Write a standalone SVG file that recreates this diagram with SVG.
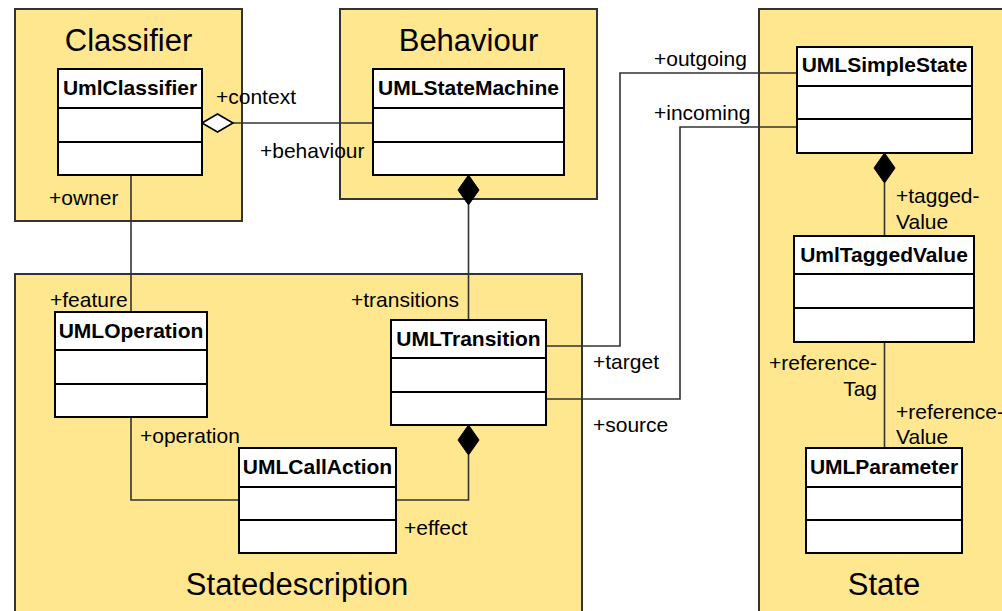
<svg xmlns="http://www.w3.org/2000/svg" width="1002" height="611" viewBox="0 0 1002 611">
  <style>
    .pkg { fill: #FFE78F; stroke: #333333; stroke-width: 2; }
    .pkg-title { font-family: "Liberation Sans", Arial, sans-serif; font-size: 31px; fill: #000; text-anchor: middle; }
    .cls { fill: #FFFFFF; stroke: #000000; stroke-width: 2; }
    .cls-name { font-family: "Liberation Sans", Arial, sans-serif; font-size: 21px; font-weight: bold; fill: #000; text-anchor: middle; }
    .edge { fill: none; stroke: #333333; stroke-width: 1.6; }
    .role { font-family: "Liberation Sans", Arial, sans-serif; font-size: 21px; fill: #000; }
    .end { text-anchor: end; }
    .comp { fill: #000000; stroke: #000000; stroke-width: 1; }
    .aggr { fill: #FFFFFF; stroke: #000000; stroke-width: 1.6; }
  </style>

  <!-- packages -->
  <g id="pkg-classifier">
    <rect class="pkg" x="15" y="9" width="227" height="212"/>
    <text class="pkg-title" x="128.5" y="51">Classifier</text>
  </g>
  <g id="pkg-behaviour">
    <rect class="pkg" x="340" y="9" width="257" height="190"/>
    <text class="pkg-title" x="468.5" y="51">Behaviour</text>
  </g>
  <g id="pkg-statedescription">
    <rect class="pkg" x="15" y="274" width="567" height="345"/>
    <text class="pkg-title" x="297" y="595">Statedescription</text>
  </g>
  <g id="pkg-state">
    <rect class="pkg" x="759" y="9" width="260" height="610"/>
    <text class="pkg-title" x="884" y="595">State</text>
  </g>

  <!-- connectors -->
  <g id="connectors">
    <!-- context / behaviour (aggregation) -->
    <path class="edge" d="M233 123 H373"/>
    <polygon class="aggr" points="202,123 217.5,114 233,123 217.5,132"/>
    <text class="role" x="216" y="104">+context</text>
    <text class="role" x="260" y="158">+behaviour</text>

    <!-- owner / feature -->
    <path class="edge" d="M131 175 V312"/>
    <text class="role" x="49" y="205">+owner</text>
    <text class="role" x="50" y="307">+feature</text>

    <!-- state machine owns transitions -->
    <path class="edge" d="M468.5 205 V320"/>
    <polygon class="comp" points="468.5,175 479,190 468.5,205 458,190"/>
    <text class="role" x="351" y="307">+transitions</text>

    <!-- operation -->
    <path class="edge" d="M131 417 V500 H239"/>
    <text class="role" x="140" y="443">+operation</text>

    <!-- transition owns effect -->
    <path class="edge" d="M468.5 455 V500 H396"/>
    <polygon class="comp" points="468.5,425 479,440 468.5,455 458,440"/>
    <text class="role" x="404" y="535">+effect</text>

    <!-- target / outgoing -->
    <path class="edge" d="M546 346 H620 V73 H797"/>
    <text class="role" x="654" y="66">+outgoing</text>
    <text class="role" x="593" y="369">+target</text>

    <!-- source / incoming -->
    <path class="edge" d="M546 399 H680 V127 H797"/>
    <text class="role" x="654" y="120">+incoming</text>
    <text class="role" x="593" y="432">+source</text>

    <!-- simple state owns tagged values -->
    <path class="edge" d="M884.5 183 V236"/>
    <polygon class="comp" points="884.5,153 895,168 884.5,183 874,168"/>
    <text class="role" x="896" y="203">+tagged-</text>
    <text class="role" x="896" y="229">Value</text>

    <!-- tagged value / parameter -->
    <path class="edge" d="M884.5 342 V448"/>
    <text class="role end" x="877" y="370">+reference-</text>
    <text class="role end" x="877" y="396">Tag</text>
    <text class="role" x="896" y="419">+reference-</text>
    <text class="role" x="896" y="444">Value</text>
  </g>

  <!-- classes -->
  <g id="UmlClassifier">
    <rect class="cls" x="58" y="69" width="144" height="106"/>
    <path class="cls" d="M58 108 H202 M58 142 H202"/>
    <text class="cls-name" x="130" y="95">UmlClassifier</text>
  </g>
  <g id="UMLStateMachine">
    <rect class="cls" x="373" y="69" width="191" height="106"/>
    <path class="cls" d="M373 108 H564 M373 142 H564"/>
    <text class="cls-name" x="468.5" y="95">UMLStateMachine</text>
  </g>
  <g id="UMLOperation">
    <rect class="cls" x="55" y="312" width="152" height="105"/>
    <path class="cls" d="M55 350 H207 M55 384 H207"/>
    <text class="cls-name" x="131" y="338">UMLOperation</text>
  </g>
  <g id="UMLTransition">
    <rect class="cls" x="391" y="320" width="155" height="105"/>
    <path class="cls" d="M391 358 H546 M391 392 H546"/>
    <text class="cls-name" x="468.5" y="346">UMLTransition</text>
  </g>
  <g id="UMLCallAction">
    <rect class="cls" x="239" y="448" width="157" height="105"/>
    <path class="cls" d="M239 487 H396 M239 520 H396"/>
    <text class="cls-name" x="317.5" y="474">UMLCallAction</text>
  </g>
  <g id="UMLSimpleState">
    <rect class="cls" x="797" y="47" width="175" height="106"/>
    <path class="cls" d="M797 86 H972 M797 119 H972"/>
    <text class="cls-name" x="884.5" y="72">UMLSimpleState</text>
  </g>
  <g id="UmlTaggedValue">
    <rect class="cls" x="794" y="236" width="180" height="106"/>
    <path class="cls" d="M794 274 H974 M794 308 H974"/>
    <text class="cls-name" x="884" y="262">UmlTaggedValue</text>
  </g>
  <g id="UMLParameter">
    <rect class="cls" x="806" y="448" width="156" height="105"/>
    <path class="cls" d="M806 487 H962 M806 520 H962"/>
    <text class="cls-name" x="884" y="474">UMLParameter</text>
  </g>
</svg>
